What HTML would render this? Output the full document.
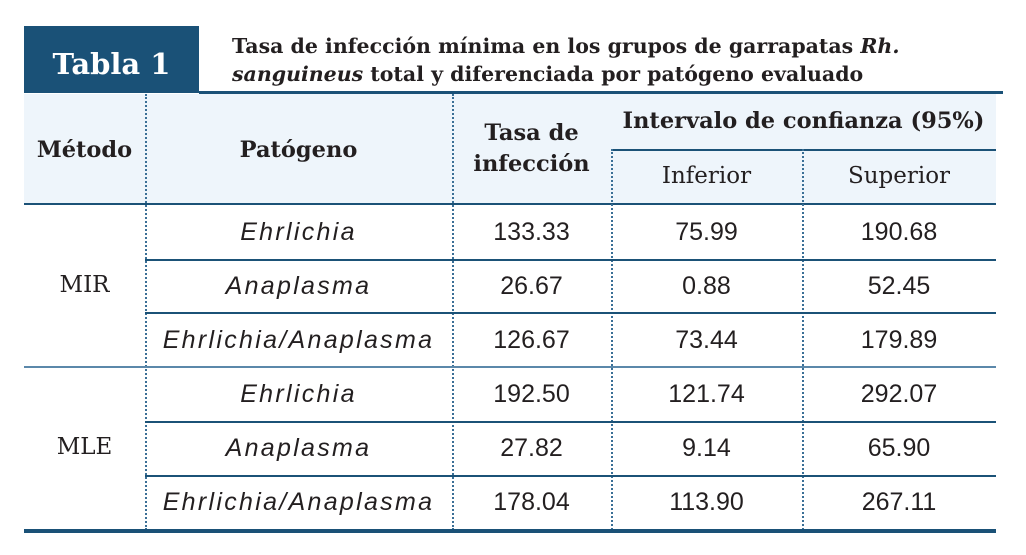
<!DOCTYPE html>
<html><head><meta charset="utf-8"><style>
body{margin:0;width:1026px;height:555px;background:#fff;position:relative;overflow:hidden;font-family:"DejaVu Serif",serif;color:#231f20}
div{position:absolute;box-sizing:border-box}
.t{text-align:center;white-space:nowrap}
.b{font-size:25px;font-family:"Liberation Sans",sans-serif}
.i{font-style:italic;letter-spacing:2.3px}
.h{font-weight:bold;font-size:22.5px}
.r{font-size:23px}
.vd{width:0;border-left:2px dotted #3a6f96}
.hl{height:2px;background:#1b5277}
</style></head><body>
<div style="left:24px;top:26px;width:175px;height:67px;background:#1a5177"></div>
<div class="t" style="left:24px;top:44px;width:175px;color:#fff;font-weight:bold;font-size:29px;line-height:40px">Tabla 1</div>
<div style="left:232px;top:32px;font-weight:bold;font-size:20.5px;line-height:28px;white-space:nowrap">Tasa de infección mínima en los grupos de garrapatas <i>Rh.</i><br><i>sanguineus</i> total y diferenciada por patógeno evaluado</div>
<div style="left:199px;top:91px;width:804px;height:3px;background:#1a5177"></div>
<div style="left:24px;top:94px;width:972px;height:110px;background:#eef5fb"></div>
<div class="hl" style="left:24px;top:203px;width:972px"></div>
<div class="hl" style="left:611px;top:149px;width:385px"></div>
<div class="vd" style="left:145px;top:94px;height:436px"></div>
<div class="vd" style="left:452px;top:94px;height:436px"></div>
<div class="vd" style="left:611px;top:149px;height:381px"></div>
<div class="vd" style="left:802px;top:149px;height:381px"></div>
<div class="hl" style="left:145px;top:259px;width:851px"></div>
<div class="hl" style="left:145px;top:312px;width:851px"></div>
<div class="hl" style="left:24px;top:366px;width:972px;background:#5b88aa"></div>
<div class="hl" style="left:145px;top:421px;width:851px"></div>
<div class="hl" style="left:145px;top:475px;width:851px"></div>
<div style="left:24px;top:529px;width:972px;height:4px;background:#1a5177"></div>
<div class="t h" style="left:24px;top:137px;width:121px">Método</div>
<div class="t h" style="left:145px;top:137px;width:307px">Patógeno</div>
<div class="t h" style="left:452px;top:118px;width:159px;line-height:31px">Tasa de<br>infección</div>
<div class="t h" style="left:611px;top:108px;width:385px">Intervalo de confianza (95%)</div>
<div class="t r" style="left:611px;top:163px;width:191px">Inferior</div>
<div class="t r" style="left:802px;top:163px;width:194px">Superior</div>
<div class="t r" style="left:24px;top:272px;width:121px">MIR</div>
<div class="t r" style="left:24px;top:434px;width:121px">MLE</div>
<div class="t b i" style="left:145px;top:218px;width:307px">Ehrlichia</div>
<div class="t b i" style="left:145px;top:272px;width:307px">Anaplasma</div>
<div class="t b i" style="left:145px;top:326px;width:307px">Ehrlichia/Anaplasma</div>
<div class="t b i" style="left:145px;top:380px;width:307px">Ehrlichia</div>
<div class="t b i" style="left:145px;top:434px;width:307px">Anaplasma</div>
<div class="t b i" style="left:145px;top:488px;width:307px">Ehrlichia/Anaplasma</div>
<div class="t b" style="left:452px;top:218px;width:159px">133.33</div>
<div class="t b" style="left:452px;top:272px;width:159px">26.67</div>
<div class="t b" style="left:452px;top:326px;width:159px">126.67</div>
<div class="t b" style="left:452px;top:380px;width:159px">192.50</div>
<div class="t b" style="left:452px;top:434px;width:159px">27.82</div>
<div class="t b" style="left:452px;top:488px;width:159px">178.04</div>
<div class="t b" style="left:611px;top:218px;width:191px">75.99</div>
<div class="t b" style="left:611px;top:272px;width:191px">0.88</div>
<div class="t b" style="left:611px;top:326px;width:191px">73.44</div>
<div class="t b" style="left:611px;top:380px;width:191px">121.74</div>
<div class="t b" style="left:611px;top:434px;width:191px">9.14</div>
<div class="t b" style="left:611px;top:488px;width:191px">113.90</div>
<div class="t b" style="left:802px;top:218px;width:194px">190.68</div>
<div class="t b" style="left:802px;top:272px;width:194px">52.45</div>
<div class="t b" style="left:802px;top:326px;width:194px">179.89</div>
<div class="t b" style="left:802px;top:380px;width:194px">292.07</div>
<div class="t b" style="left:802px;top:434px;width:194px">65.90</div>
<div class="t b" style="left:802px;top:488px;width:194px">267.11</div>
</body></html>
